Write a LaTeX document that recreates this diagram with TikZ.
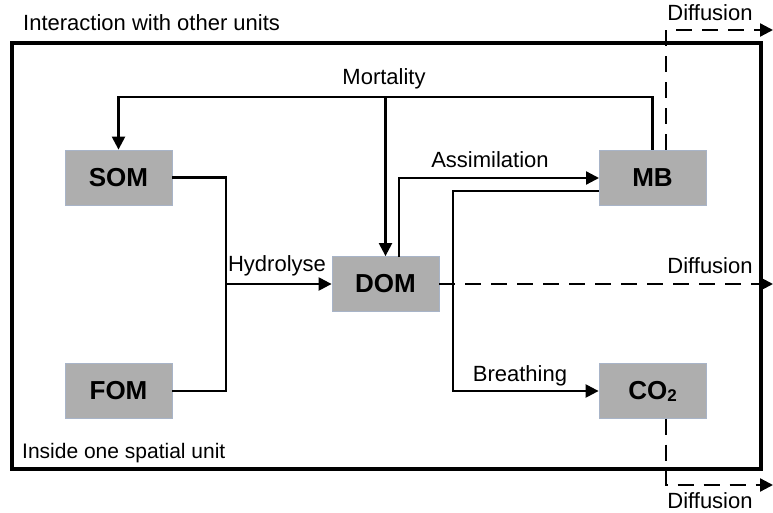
\documentclass[tikz,border=0pt]{standalone}
\usepackage{fontspec}
\setmainfont{Liberation Sans}
\usetikzlibrary{arrows.meta}
\definecolor{boxfill}{HTML}{AEAEAE}
\definecolor{boxline}{HTML}{A8B4C8}
\begin{document}
\begin{tikzpicture}[x=1pt,y=-1pt,
  pool/.style={draw=boxline,line width=0.8pt,fill=boxfill,minimum width=107pt,minimum height=55pt,inner sep=0pt,font=\bfseries\fontsize{26}{30}\selectfont},
  flow/.style={line width=2.3pt,-{Triangle[length=13pt,width=13pt]}},
  plain/.style={line width=2.3pt},
  dflow/.style={line width=2.3pt,dash pattern=on 16pt off 10pt,-{Triangle[length=13pt,width=13pt]}},
  lbl/.style={font=\fontsize{22}{26}\selectfont,inner sep=0pt}]
\useasboundingbox (0,0) rectangle (773,513);
\draw[line width=4.5pt] (12,43) rectangle (761,469);
\node[lbl,anchor=west] (t1) at (23,23) {Interaction with other units};
\node[lbl,anchor=west,font=\fontsize{21}{25}\selectfont] (t2) at (22,453) {Inside one spatial unit};

\node[pool] (som) at (118.5,177.5) {SOM};
\node[pool] (fom) at (118.5,391) {FOM};
\node[pool] (dom) at (385.5,284) {DOM};
\node[pool] (mb) at (652.5,177.5) {MB};
\node[pool] (co2) at (652.5,391) {CO{\fontsize{17}{20}\selectfont\raisebox{-2pt}{2}}};

% Hydrolyse
\coordinate (hj) at (226,284);
\draw[plain] (som.east) -| (hj);
\draw[plain] (fom.east) -| (hj);
\draw[flow] (hj) -- (dom.west);
\node[lbl] (lh) at (277,266) {Hydrolyse};

% Mortality
\coordinate (mtop) at (652.5,97);
\coordinate (mleft) at (118.5,97);
\coordinate (mmid) at (385.5,97);
\draw[flow] (mb.north) -- (mtop) -- (mleft) -- (som.north);
\draw[flow] (mmid) -- (dom.north);
\node[lbl] (lm) at (384,79) {Mortality};

% Assimilation
\coordinate (a1) at (399,257);
\coordinate (a2) at (399,178);
\coordinate (a3) at (599,178);
\draw[flow] (a1) -- (a2) -- (a3);
\node[lbl] (la) at (490,160) {Assimilation};

% Breathing
\coordinate (b1) at (599,191);
\coordinate (b2) at (453,191);
\coordinate (b3) at (453,391);
\draw[flow] (b1) -- (b2) -- (b3) -- (co2.west);
\node[lbl] (lb) at (520,376) {Breathing};

% Diffusion
\coordinate (dr) at (773,284);
\draw[dflow] (dom.east) -- (dr);
\node[lbl] (ld2) at (710,266) {Diffusion};

\coordinate (u1) at (666,150);
\coordinate (u2) at (666,30);
\coordinate (u3) at (773,30);
\draw[dflow] (u1) -- (u2) -- (u3);
\node[lbl] (ld1) at (710,13) {Diffusion};

\coordinate (l1) at (666,418.5);
\coordinate (l2) at (666,485);
\coordinate (l3) at (773,485);
\draw[dflow] (l1) -- (l2) -- (l3);
\node[lbl] (ld3) at (710,501) {Diffusion};
\end{tikzpicture}
\end{document}
